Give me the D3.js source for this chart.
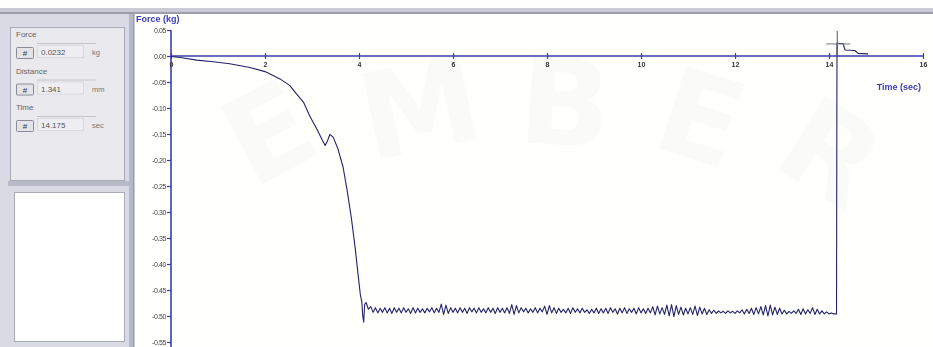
<!DOCTYPE html>
<html><head><meta charset="utf-8">
<script src="https://cdn.jsdelivr.net/npm/d3@7"></script>
<style>
html,body{margin:0;padding:0;background:#fffffb;}
svg{display:block;font-family:"Liberation Sans",Arial,sans-serif;}
</style></head>
<body>
<script>
// ---- data ----
const xTicks = [0, 2, 4, 6, 8, 10, 12, 14, 16];
const xTickLabels = ["0", "2", "4", "6", "8", "10", "12", "14", "16"];
const yTicks = [0.05, 0.00, -0.05, -0.10, -0.15, -0.20, -0.25, -0.30, -0.35, -0.40, -0.45, -0.50, -0.55];
const yTickLabels = ["0.05", "0.00", "-0.05", "-0.10", "-0.15", "-0.20", "-0.25", "-0.30", "-0.35", "-0.40", "-0.45", "-0.50", "-0.55"];

// loading ramp (sec, kg)
const rampTime  = [0, 0.2, 0.55, 0.9, 1.25, 1.68, 2.0, 2.32, 2.53, 2.67, 2.82, 2.96, 3.1, 3.2, 3.28, 3.33, 3.38, 3.45, 3.55, 3.66, 3.75, 3.84, 3.92, 3.98, 4.03, 4.06, 4.08, 4.10, 4.12];
const rampForce = [-0.001, -0.003, -0.008, -0.011, -0.015, -0.022, -0.030, -0.044, -0.057, -0.073, -0.089, -0.117, -0.140, -0.158, -0.172, -0.163, -0.151, -0.156, -0.178, -0.213, -0.260, -0.313, -0.370, -0.420, -0.460, -0.473, -0.500, -0.512, -0.478];

// plateau: sampled every 0.05 s from 4.15 s (values in kg)
const plateauStart = 4.15;
const plateauStep = 0.05;
const plateauForce = [
 -0.474,-0.487,-0.482,-0.493,-0.484,-0.494,-0.485,-0.493,-0.484,-0.494,
 -0.485,-0.495,-0.484,-0.493,-0.485,-0.494,-0.484,-0.493,-0.486,-0.495,
 -0.484,-0.494,-0.485,-0.493,-0.486,-0.494,-0.485,-0.492,-0.484,-0.494,
 -0.485,-0.493,-0.477,-0.497,-0.479,-0.495,-0.484,-0.493,-0.485,-0.494,
 -0.484,-0.493,-0.485,-0.495,-0.484,-0.492,-0.485,-0.494,-0.484,-0.493,
 -0.486,-0.494,-0.484,-0.493,-0.485,-0.495,-0.484,-0.493,-0.485,-0.494,
 -0.484,-0.495,-0.478,-0.497,-0.480,-0.494,-0.484,-0.492,-0.485,-0.494,
 -0.486,-0.493,-0.484,-0.494,-0.485,-0.492,-0.481,-0.497,-0.480,-0.494,
 -0.484,-0.495,-0.485,-0.493,-0.487,-0.494,-0.485,-0.495,-0.484,-0.493,
 -0.486,-0.494,-0.485,-0.493,-0.488,-0.495,-0.487,-0.494,-0.485,-0.495,
 -0.486,-0.494,-0.485,-0.495,-0.484,-0.493,-0.486,-0.496,-0.485,-0.494,
 -0.484,-0.495,-0.486,-0.493,-0.485,-0.496,-0.484,-0.494,-0.486,-0.495,
 -0.485,-0.494,-0.482,-0.498,-0.481,-0.496,-0.484,-0.497,-0.479,-0.500,
 -0.478,-0.501,-0.480,-0.497,-0.483,-0.498,-0.485,-0.496,-0.484,-0.497,
 -0.481,-0.499,-0.483,-0.496,-0.485,-0.497,-0.488,-0.495,-0.489,-0.495,
 -0.490,-0.494,-0.491,-0.495,-0.490,-0.494,-0.491,-0.495,-0.490,-0.494,
 -0.488,-0.496,-0.487,-0.495,-0.485,-0.497,-0.484,-0.496,-0.482,-0.498,
 -0.480,-0.500,-0.479,-0.498,-0.483,-0.497,-0.485,-0.496,-0.489,-0.496,
 -0.491,-0.495,-0.490,-0.495,-0.487,-0.497,-0.486,-0.496,-0.488,-0.495,
 -0.484,-0.497,-0.487,-0.496,-0.490,-0.496,-0.492,-0.496,-0.494,-0.496
];

// release (sec, kg)
const releaseTime  = [14.16, 14.17, 14.22, 14.30, 14.34, 14.55, 14.62, 14.83];
const releaseForce = [-0.496, 0.025, 0.024, 0.024, 0.0115, 0.0105, 0.005, 0.004];

// readout panel
const readLabels = ["Force", "Distance", "Time"];
const readValues = ["0.0232", "1.341", "14.175"];
const readUnits  = ["kg", "mm", "sec"];
const cursorTime = 14.175, cursorForce = 0.0232;

// ---- drawing ----
const W = 933, H = 347;
const svg = d3.select("body").append("svg").attr("width", W).attr("height", H);

// background
svg.append("rect").attr("width", W).attr("height", H).attr("fill", "#fffffb");

// faint watermark letters
const wm = svg.append("g").attr("fill", "#8a8fb0").attr("opacity", 0.04)
  .attr("font-family", "DejaVu Sans, sans-serif").attr("font-weight", "bold").attr("font-size", 120);
[["E",270,175,-28],["M",420,150,-12],["B",565,145,4],["E",700,160,18],["R",830,195,32]].forEach(d=>{
  wm.append("text").attr("x", d[1]).attr("y", d[2]).attr("text-anchor","middle")
    .attr("transform", `rotate(${d[3]},${d[1]},${d[2]-40})`).text(d[0]);
});

// top bar
svg.append("rect").attr("x", 0).attr("y", 8).attr("width", W).attr("height", 6).attr("fill", "#c9cad6");
svg.append("rect").attr("x", 0).attr("y", 12).attr("width", W).attr("height", 2).attr("fill", "#9c9dab");

// left panel
const lp = svg.append("g");
lp.append("rect").attr("x", 0).attr("y", 14).attr("width", 134).attr("height", H - 14).attr("fill", "#d9dae4");
lp.append("rect").attr("x", 129).attr("y", 14).attr("width", 4).attr("height", H - 14).attr("fill", "#b7b8c6");
lp.append("rect").attr("x", 10.5).attr("y", 27.5).attr("width", 114).attr("height", 153)
  .attr("fill", "#e9e9ee").attr("stroke", "#a9aab8").attr("stroke-width", 1);
lp.append("rect").attr("x", 8).attr("y", 181).attr("width", 121).attr("height", 5).attr("fill", "#babbc8");
lp.append("rect").attr("x", 14.5).attr("y", 192.5).attr("width", 110).attr("height", 149)
  .attr("fill", "#ffffff").attr("stroke", "#a9aab8").attr("stroke-width", 1);

readLabels.forEach((lab, i) => {
  const c = 34 + i * 36.5;
  lp.append("text").attr("x", 16).attr("y", c + 3).attr("font-size", 8).attr("fill", "#666").text(lab);
  lp.append("line").attr("x1", 37).attr("x2", 96).attr("y1", c + 9.5).attr("y2", c + 9.5).attr("stroke", "#c4c4cc");
  lp.append("rect").attr("x", 37.5).attr("y", c + 11.5).attr("width", 46).attr("height", 12)
    .attr("fill", "#eeeef2").attr("stroke", "#dadae0");
  lp.append("rect").attr("x", 16.5).attr("y", c + 13.5).attr("width", 17).attr("height", 11)
    .attr("fill", "#e3e3e8").attr("stroke", "#8c8c98").attr("rx", 1);
  lp.append("text").attr("x", 25).attr("y", c + 22).attr("font-size", 8).attr("text-anchor", "middle").attr("fill", "#333").text("#");
  lp.append("text").attr("x", 41).attr("y", c + 21).attr("font-size", 8).attr("fill", "#555").text(readValues[i]);
  lp.append("text").attr("x", 92).attr("y", c + 21).attr("font-size", 7.5).attr("fill", "#777").text(readUnits[i]);
});

// chart frame line
svg.append("rect").attr("x", 133).attr("y", 14).attr("width", 1.5).attr("height", H - 14).attr("fill", "#9a9bab");

// scales
const x = d3.scaleLinear().domain([0, 16]).range([171, 923]);
const y = d3.scaleLinear().domain([0.05, -0.55]).range([30, 342]);
const axisColor = "#3c3cb4";

// y axis
const ya = svg.append("g").attr("transform", `translate(${x(0)},0)`)
  .call(d3.axisLeft(y).tickValues(yTicks).tickSize(4).tickPadding(1)
    .tickFormat((d, i) => yTickLabels[i]));
ya.select(".domain").attr("stroke", axisColor).attr("stroke-width", 1.6).attr("d", `M0,${y(0.05)}V${H}`);
ya.selectAll(".tick line").attr("stroke", axisColor).attr("stroke-width", 1.2);
ya.selectAll(".tick text").attr("font-size", 7).attr("fill", "#444").attr("letter-spacing", "-0.4px");

// x axis (at zero)
const xa = svg.append("g").attr("transform", `translate(0,${y(0)})`)
  .call(d3.axisBottom(x).tickValues(xTicks).tickSize(3).tickPadding(3)
    .tickFormat((d, i) => xTickLabels[i]));
xa.select(".domain").attr("stroke", axisColor).attr("stroke-width", 1.6).attr("d", `M${x(0)},0H${x(16)}`);
xa.selectAll(".tick line").attr("stroke", axisColor).attr("stroke-width", 1.2).attr("y1", -3);
xa.selectAll(".tick text").attr("font-size", 7).attr("fill", "#333").attr("font-weight", "bold");

// titles
svg.append("text").attr("x", 136).attr("y", 22).attr("font-size", 9).attr("font-weight", "bold")
  .attr("fill", axisColor).text("Force (kg)");
svg.append("text").attr("x", 921).attr("y", 90).attr("text-anchor", "end").attr("font-size", 9).attr("font-weight", "bold")
  .attr("fill", axisColor).text("Time (sec)");

// data series
const pts = [];
rampTime.forEach((t, i) => pts.push([t, rampForce[i]]));
plateauForce.forEach((f, i) => pts.push([plateauStart + i * plateauStep, f]));
releaseTime.forEach((t, i) => pts.push([t, releaseForce[i]]));

const line = d3.line().x(d => x(d[0])).y(d => y(d[1]));
svg.append("path").datum(pts).attr("d", line).attr("fill", "none")
  .attr("stroke", "#23236a").attr("stroke-width", 1.1).attr("stroke-linejoin", "round");

// cursor cross
const cx = x(cursorTime), cy = y(cursorForce);
svg.append("line").attr("x1", cx).attr("x2", cx).attr("y1", y(0.048)).attr("y2", y(0.0))
  .attr("stroke", "#55555f").attr("stroke-width", 1);
svg.append("line").attr("x1", cx - 11).attr("x2", cx + 13).attr("y1", cy).attr("y2", cy)
  .attr("stroke", "#77777f").attr("stroke-width", 1);
</script>
</body></html>
